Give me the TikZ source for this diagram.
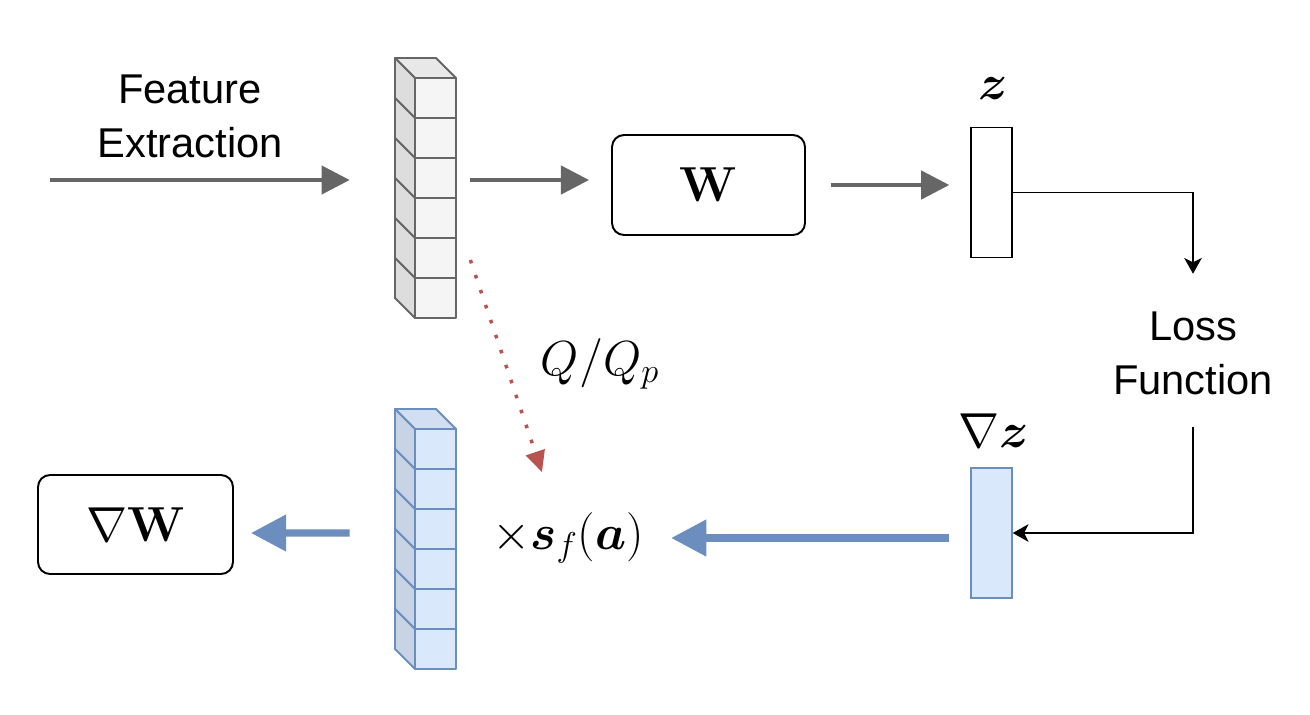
\RequirePackage{fix-cm}
\documentclass[tikz,border=0pt]{standalone}
\usepackage{amsmath}
\usepackage[no-math]{fontspec}
\setmainfont{Liberation Sans}
\usetikzlibrary{arrows.meta}

\definecolor{arrgray}{HTML}{666666}
\definecolor{featfront}{HTML}{F5F5F5}
\definecolor{featside}{HTML}{DDDDDD}
\definecolor{feattop}{HTML}{E8E8E8}
\definecolor{gradfront}{HTML}{DAE8FC}
\definecolor{gradside}{HTML}{C8D3E6}
\definecolor{gradtop}{HTML}{D2DEF2}
\definecolor{gradedge}{HTML}{6C8EBF}
\definecolor{quantred}{HTML}{B85450}

\begin{document}
\begin{tikzpicture}[x=0.02cm, y=-0.02cm,
    grayarrow/.style = {draw=arrgray, line width=2.4pt, -{Triangle[length=16pt, width=16pt]}},
    bluearrow/.style = {draw=gradedge, line width=4pt, -{Triangle[length=20pt, width=20pt]}},
    thinarrow/.style = {draw=black, line width=1.1pt, -{Stealth[length=9pt, width=10pt, inset=2.5pt]}},
    dotarrow/.style = {draw=quantred, line width=2pt, dash pattern=on 2pt off 7pt,
                       -{Triangle[length=12pt, width=11pt, sep=0pt]}},
    wbox/.style = {draw, line width=1.1pt, rounded corners=0.24cm, inner sep=0pt},
    vecbox/.style = {draw, line width=1.1pt, inner sep=0pt, minimum width=0.81cm, minimum height=2.6cm},
    txt/.style = {inner sep=0pt, align=center, font=\fontsize{23.7}{30.6}\selectfont},
    mathtxt/.style = {inner sep=0pt, font=\fontsize{28}{34}\selectfont},
    celledge/.style = {line width=1.1pt, line join=round}]
  \useasboundingbox (0,0) rectangle (1310,714);

  % the two stacks of cells
  \foreach \sx/\sy/\fr/\sd/\tp/\ed in {415/78/featfront/featside/feattop/arrgray,
                                       415/429/gradfront/gradside/gradtop/gradedge} {
    \filldraw[celledge, fill=\tp, draw=\ed] (\sx,\sy) -- ++(-20,-20) -- ++(41,0) -- ++(20,20) -- cycle;
    \foreach \i in {0,...,5} {
      \filldraw[celledge, fill=\sd, draw=\ed] (\sx,\sy+40*\i) -- ++(-20,-20) -- ++(0,40) -- ++(20,20) -- cycle;
      \filldraw[celledge, fill=\fr, draw=\ed] (\sx,\sy+40*\i) rectangle ++(41,40);
    }
  }
  \node[inner sep=0pt, minimum width=0.82cm, minimum height=4.8cm] (feat) at (435.5,198) {};
  \node[inner sep=0pt, minimum width=0.82cm, minimum height=4.8cm] (gfeat) at (435.5,549) {};

  % forward pass
  \node[txt] (fe) at (190,116) {Feature\\Extraction};
  \coordinate (src) at (50,180);
  \node[wbox, minimum width=3.86cm, minimum height=2cm] (W) at (708.5,185) {\fontsize{28}{34}\selectfont$\mathbf{W}$};
  \node[vecbox] (z) at (991.5,192.5) {};
  \node[mathtxt] (zl) at (993,89) {$\boldsymbol{z}$};
  \node[txt] (loss) at (1193,353) {Loss\\Function};

  \draw[grayarrow] (src) -- ([shift={(-65,-18)}]feat.west);
  \draw[grayarrow] ([shift={(14,-18)}]feat.east) -- ([shift={(-22,-5)}]W.west);
  \draw[grayarrow] ([shift={(25,0)}]W.east) -- ([shift={(-21,-7.5)}]z.west);
  \draw[thinarrow, shorten >=0.75cm] (z.east) -| (loss.north);

  % backward pass
  \node[vecbox, draw=gradedge, fill=gradfront] (gz) at (991.5,533) {};
  \node[mathtxt] (gzl) at (994,431) {$\nabla\boldsymbol{z}$};
  \node[mathtxt] (sf) at (568,538) {$\times\boldsymbol{s}_f(\boldsymbol{a})$};
  \node[wbox, minimum width=3.9cm, minimum height=1.98cm] (gW) at (135.5,524.5) {\fontsize{28}{34}\selectfont$\nabla\mathbf{W}$};
  \node[mathtxt] (q) at (600,364) {$Q/Q_p$};

  \draw[thinarrow, shorten <=0.65cm] (loss.south) |- (gz.east);
  \draw[bluearrow] ([shift={(-21,5)}]gz.west) -- ([shift={(27,0)}]sf.east);
  \draw[bluearrow] ([shift={(-65,-16)}]gfeat.west) -- ([shift={(17,8.5)}]gW.east);
  \draw[dotarrow] ([shift={(14,62)}]feat.east) -- ([shift={(-26,-40)}]sf.north);
\end{tikzpicture}
\end{document}
